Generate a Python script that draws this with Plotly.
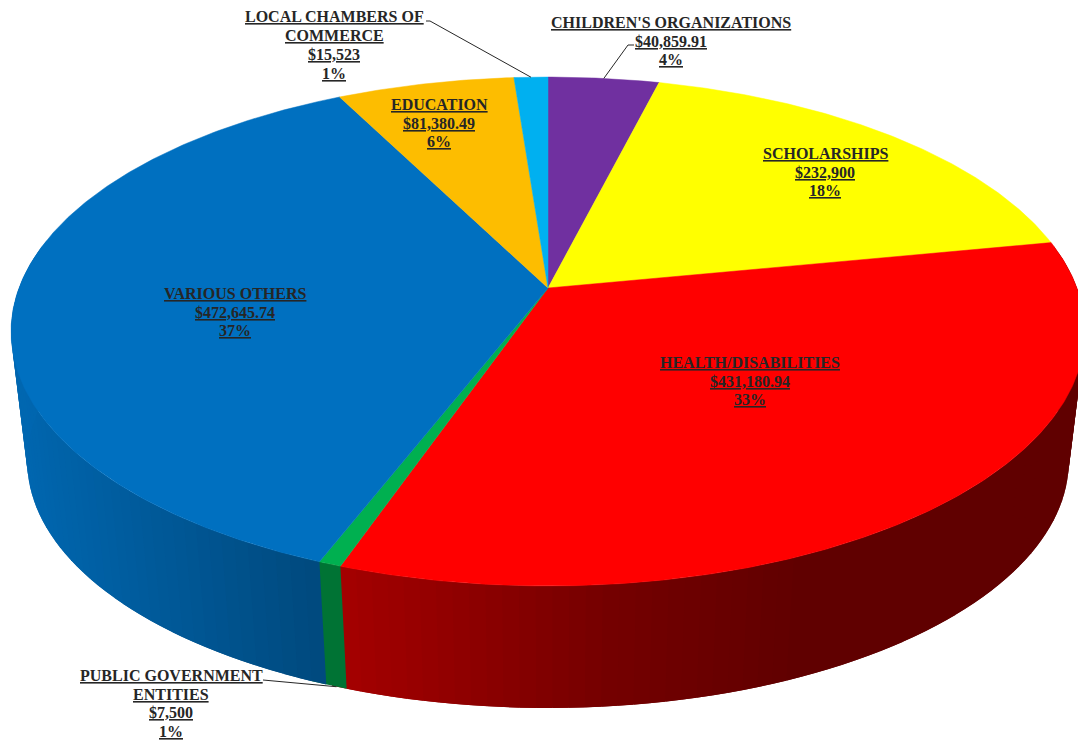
import math
import plotly.graph_objects as go

categories = ["CHILDREN'S ORGANIZATIONS", "SCHOLARSHIPS", "HEALTH/DISABILITIES",
              "PUBLIC GOVERNMENT<br>ENTITIES", "VARIOUS OTHERS", "EDUCATION",
              "LOCAL CHAMBERS OF<br>COMMERCE"]
# sizes as drawn (the children's slice is drawn at about 4%, larger than its printed amount)
drawn_values = [50859.91, 232900, 431180.94, 7500, 472645.74, 81380.49, 15523]
amount_labels = ["$40,859.91", "$232,900", "$431,180.94", "$7,500", "$472,645.74", "$81,380.49", "$15,523"]
percent_labels = ["4%", "18%", "33%", "1%", "37%", "6%", "1%"]
colors = [(112, 48, 160), (255, 255, 0), (255, 0, 0), (0, 176, 80), (0, 112, 192), (253, 189, 0), (0, 176, 240)]
label_x = [671, 825, 750, 171, 235, 439, 334]
label_y = [41, 172, 381, 703.5, 312, 123, 45]
LINE_STEP = 18.7

# perspective of the pie
CX, CY = 548, 288
A, B, K = 247, 529, 0.171
WALL_SCALE, WALL_Y0 = 0.97, 419
# wall shading against horizontal position
shade_x = [25, 318, 340, 600, 800, 1078]
shade_f = [0.92, 0.66, 0.65, 0.46, 0.375, 0.375]


def top_pt(deg):
    t = math.radians(deg)
    x, y = math.sin(t), math.cos(t)
    d = 1 + K * y
    return CX + B * x / d, CY - A * y / d


def bottom_pt(deg):
    px, py = top_pt(deg)
    return CX + WALL_SCALE * (px - CX), WALL_Y0 + WALL_SCALE * (py - CY)


def shade(x):
    if x <= shade_x[0]:
        return shade_f[0]
    for i in range(len(shade_x) - 1):
        if x <= shade_x[i + 1]:
            r = (x - shade_x[i]) / (shade_x[i + 1] - shade_x[i])
            return shade_f[i] + r * (shade_f[i + 1] - shade_f[i])
    return shade_f[-1]


total = sum(drawn_values)
edges = [0.0]
for v in drawn_values:
    edges.append(edges[-1] + 360 * v / total)

fig = go.Figure()


def add_poly(pts, col, width=0):
    xs = [p[0] for p in pts] + [pts[0][0]]
    ys = [p[1] for p in pts] + [pts[0][1]]
    fig.add_trace(go.Scatter(x=xs, y=ys, mode="lines", fill="toself", fillcolor=col,
                             line=dict(color=col, width=width), hoverinfo="skip", showlegend=False))


# side wall: each band runs on under the next one, so no seams show
for i, base in enumerate(colors):
    a0, a1 = max(edges[i], 80), min(edges[i + 1], 280)
    if a1 <= a0:
        continue
    n = max(1, int((a1 - a0) / 1.5))
    for j in range(n):
        s0 = a0 + (a1 - a0) * j / n
        s1 = a0 + (a1 - a0) * (j + 1) / n
        f = shade(bottom_pt((s0 + s1) / 2)[0])
        col = "rgb(%d,%d,%d)" % tuple(round(c * f) for c in base)
        s2 = s1 + 1.5
        add_poly([top_pt(s0), top_pt(s1), top_pt(s2), bottom_pt(s2), bottom_pt(s1), bottom_pt(s0)], col)

# top face
for i, base in enumerate(colors):
    a0, a1 = edges[i], edges[i + 1]
    n = max(2, int((a1 - a0) * 2))
    pts = [(CX, CY)] + [top_pt(a0 + (a1 - a0) * j / n) for j in range(n + 1)]
    add_poly(pts, "rgb(%d,%d,%d)" % base, 0.5)

# leader lines
mids = [(edges[i] + edges[i + 1]) / 2 for i in range(len(drawn_values))]
ex, ey = top_pt(mids[0])
leaders = [
    ([634, 628, ex], [45, 45, ey]),
    ([426, 430, top_pt(mids[6])[0]], [21, 21, top_pt(mids[6])[1]]),
    ([263, bottom_pt(mids[3])[0]], [680, bottom_pt(mids[3])[1]]),
]
for lx, ly in leaders:
    fig.add_trace(go.Scatter(x=lx, y=ly, mode="lines", line=dict(color="#262626", width=1),
                             hoverinfo="skip", showlegend=False))

# labels, one annotation per line so that the line spacing can follow the reference
for i in range(len(categories)):
    lines = categories[i].split("<br>") + [amount_labels[i], percent_labels[i]]
    for k, s in enumerate(lines):
        fig.add_annotation(x=label_x[i], y=label_y[i] + (k - (len(lines) - 1) / 2) * LINE_STEP,
                           text="<b><u>%s</u></b>" % s, showarrow=False,
                           xanchor="center", yanchor="middle", align="center",
                           font=dict(family="Liberation Serif", size=16, color="#262626"))

fig.update_layout(
    width=1078, height=740, autosize=False,
    margin=dict(l=0, r=0, t=0, b=0),
    paper_bgcolor="white", plot_bgcolor="white",
    xaxis=dict(range=[0, 1078], visible=False, fixedrange=True),
    yaxis=dict(range=[740, 0], visible=False, fixedrange=True),
)
fig.write_html("out.html", post_script="document.body.style.margin='0';", config={"displayModeBar": False})
